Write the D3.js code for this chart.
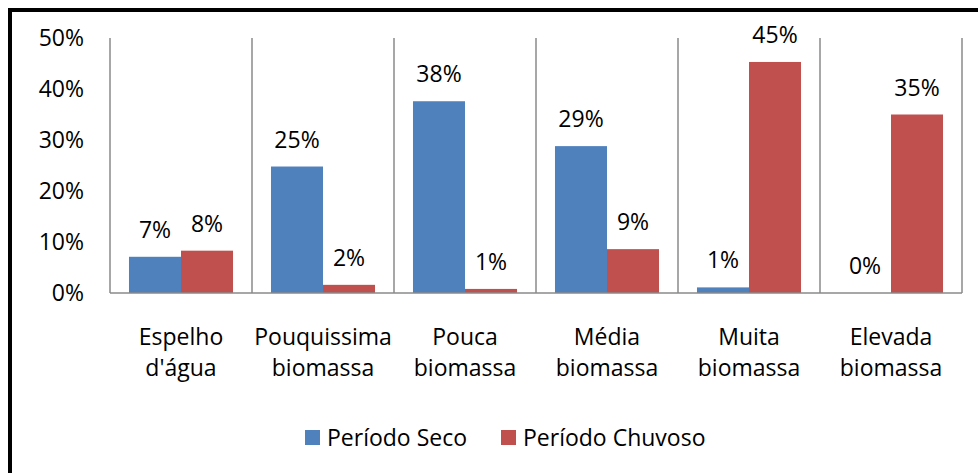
<!DOCTYPE html>
<html>
<head>
<meta charset="utf-8">
<script src="https://cdn.jsdelivr.net/npm/d3@7"></script>
<style>
  body { margin: 0; background: #fff; }
  svg { display: block; font-family: "Open Sans", sans-serif; }
</style>
</head>
<body>
<svg id="chart" width="978" height="473"></svg>
<script>
const categories = [["Espelho", "d'água"], ["Pouquissima", "biomassa"], ["Pouca", "biomassa"], ["Média", "biomassa"], ["Muita", "biomassa"], ["Elevada", "biomassa"]];
const seriesNames = ["Período Seco", "Período Chuvoso"];
const seco = [0.071, 0.248, 0.376, 0.288, 0.011, 0.0];
const chuvoso = [0.083, 0.016, 0.008, 0.086, 0.453, 0.350];
const yTicks = [0, 0.1, 0.2, 0.3, 0.4, 0.5];
const colors = ["#4F81BD", "#C0504D"];

(function () {
const svg = d3.select("#chart");
const mLeft = 110, mRight = 962, mTop = 38, mBottom = 293;
const FS = 23;

// outer border (only top/left visible)
svg.append("rect").attr("x", 10).attr("y", 10).attr("width", 1100).attr("height", 600)
  .attr("fill", "none").attr("stroke", "#000").attr("stroke-width", 4);

const catIdx = categories.map((d, i) => i);
const x0 = d3.scaleBand().domain(catIdx).range([mLeft, mRight]).paddingInner(0).paddingOuter(0);
const x1 = d3.scaleBand().domain([0, 1]).range([0, x0.bandwidth()]).paddingInner(0).paddingOuter(0.365);
const y = d3.scaleLinear().domain([0, 0.5]).range([mBottom, mTop]);

// vertical separators (category gridlines)
const seps = catIdx.map(i => x0(i)).concat([x0(catIdx[catIdx.length - 1]) + x0.bandwidth()]);
svg.append("g").selectAll("line").data(seps).join("line")
  .attr("x1", d => d).attr("x2", d => d).attr("y1", y(0.5)).attr("y2", y(0))
  .attr("stroke", "#8a8a8a").attr("stroke-width", 1.5);

// y axis labels
const yAxis = d3.axisLeft(y).tickValues(yTicks).tickFormat(d3.format(".0%")).tickSize(0).tickPadding(26);
const gy = svg.append("g").attr("transform", `translate(${mLeft},0)`).call(yAxis);
gy.select(".domain").remove();
gy.selectAll("text").attr("font-size", FS).attr("fill", "#000").attr("font-family", "Open Sans, sans-serif");

// bars
const data = [seco, chuvoso];
const gb = svg.append("g");
data.forEach((vals, s) => {
  gb.selectAll(null).data(vals).join("rect")
    .attr("x", (d, i) => x0(i) + x1(s))
    .attr("y", d => y(d))
    .attr("width", x1.bandwidth())
    .attr("height", d => y(0) - y(d))
    .attr("fill", colors[s]);
  gb.selectAll(null).data(vals).join("text")
    .attr("x", (d, i) => x0(i) + x1(s) + x1.bandwidth() / 2)
    .attr("y", d => y(d) - 27)
    .attr("dy", "0.35em")
    .attr("text-anchor", "middle")
    .attr("font-size", FS)
    .attr("fill", "#000")
    .text(d => d3.format(".0%")(d));
});

// baseline
svg.append("line").attr("x1", mLeft).attr("x2", mRight).attr("y1", y(0)).attr("y2", y(0))
  .attr("stroke", "#8a8a8a").attr("stroke-width", 1.5);

// category labels
const gx = svg.append("g");
categories.forEach((lines, i) => {
  lines.forEach((t, j) => {
    gx.append("text")
      .attr("x", x0(i) + x0.bandwidth() / 2)
      .attr("y", 337 + j * 31)
      .attr("dy", "0.35em")
      .attr("text-anchor", "middle")
      .attr("font-size", FS)
      .attr("fill", "#000")
      .text(t);
  });
});

// legend
const legendX = [305, 501];
seriesNames.forEach((name, s) => {
  svg.append("rect").attr("x", legendX[s]).attr("y", 430).attr("width", 15).attr("height", 15).attr("fill", colors[s]);
  svg.append("text").attr("x", legendX[s] + 22).attr("y", 437.5).attr("dy", "0.35em")
    .attr("font-size", FS).attr("fill", "#000").text(name);
});
})();
</script>
</body>
</html>
